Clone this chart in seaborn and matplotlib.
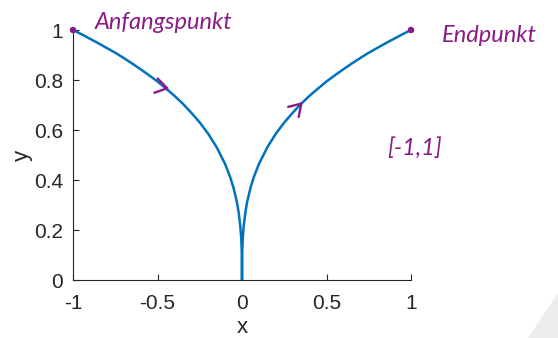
import matplotlib
matplotlib.use("Agg")
import matplotlib.pyplot as plt
import seaborn as sns
from matplotlib.patches import Polygon

# curve samples (x, y) from -1 to 1
x_vals = [-1.0, -0.95, -0.9, -0.85, -0.8, -0.75, -0.7, -0.65, -0.6, -0.55,
          -0.5, -0.45, -0.4, -0.35, -0.3, -0.25, -0.2, -0.15, -0.1, -0.07,
          -0.05, -0.03, -0.02, -0.01, -0.005, -0.002, -0.0005, -0.0001,
          -0.00001, 0.0,
          0.00001, 0.0001, 0.0005, 0.002, 0.005, 0.01, 0.02, 0.03, 0.05,
          0.07, 0.1, 0.15, 0.2, 0.25, 0.3, 0.35, 0.4, 0.45, 0.5, 0.55, 0.6,
          0.65, 0.7, 0.75, 0.8, 0.85, 0.9, 0.95, 1.0]
y_vals = [1.000, 0.983, 0.965, 0.947, 0.928, 0.909, 0.888, 0.866, 0.843, 0.819,
          0.794, 0.766, 0.737, 0.705, 0.669, 0.630, 0.585, 0.531, 0.464, 0.412,
          0.368, 0.311, 0.271, 0.215, 0.171, 0.126, 0.079, 0.046,
          0.022, 0.000,
          0.022, 0.046, 0.079, 0.126, 0.171, 0.215, 0.271, 0.311, 0.368,
          0.412, 0.464, 0.531, 0.585, 0.630, 0.669, 0.705, 0.737, 0.766, 0.794,
          0.819, 0.843, 0.866, 0.888, 0.909, 0.928, 0.947, 0.965, 0.983, 1.000]

# start / end points
end_x = [-1.0, 1.0]
end_y = [1.0, 1.0]

x_ticks = [-1, -0.5, 0, 0.5, 1]
x_tick_labels = ["-1", "-0.5", "0", "0.5", "1"]
y_ticks = [0, 0.2, 0.4, 0.6, 0.8, 1]
y_tick_labels = ["0", "0.2", "0.4", "0.6", "0.8", "1"]

sns.set_style("ticks")
plt.rcParams["font.family"] = ["Liberation Sans", "DejaVu Sans"]

blue = "#0072BD"
purple = "#8a1a86"
axis_gray = "#262626"

fig = plt.figure(figsize=(5.58, 3.38), dpi=100)
ax = fig.add_axes([73 / 558, 1 - 280 / 338, 338 / 558, 250 / 338])

sns.lineplot(x=x_vals, y=y_vals, ax=ax, color=blue, linewidth=1.8, sort=False)
sns.scatterplot(x=end_x, y=end_y, ax=ax, color=purple, s=22, edgecolor="none",
                zorder=5, clip_on=False)

# direction chevrons along the curve
chevron = dict(arrowstyle="->,head_length=0.55,head_width=0.35",
               color=purple, lw=1.7, shrinkA=0, shrinkB=0, mutation_scale=15)
ax.annotate("", xy=(-0.43, 0.765), xytext=(-3, 0.7), textcoords="offset points",
            arrowprops=chevron)
ax.annotate("", xy=(0.36, 0.712), xytext=(-2, -2.1), textcoords="offset points",
            arrowprops=chevron)

hand = dict(color=purple, family=["Lato", "DejaVu Sans"], style="italic",
            fontsize=17)
ax.text(-0.87, 1.03, "Anfangspunkt", ha="left", va="center", clip_on=False, **hand)
ax.text(1.18, 0.98, "Endpunkt", ha="left", va="center", clip_on=False, **hand)
ax.text(0.86, 0.53, "[-1,1]", ha="left", va="center", clip_on=False, **hand)

ax.set_xlim(-1, 1)
ax.set_ylim(0, 1)
ax.set_xticks(x_ticks)
ax.set_xticklabels(x_tick_labels)
ax.set_yticks(y_ticks)
ax.set_yticklabels(y_tick_labels)
ax.tick_params(direction="in", length=4, width=0.8, colors=axis_gray,
               labelsize=15, pad=7)
ax.tick_params(axis="x", pad=10)
for side in ("left", "bottom"):
    ax.spines[side].set_color(axis_gray)
    ax.spines[side].set_linewidth(0.8)
ax.spines["top"].set_visible(False)
ax.spines["right"].set_visible(False)

ax.set_xlabel("x", fontsize=16, color=axis_gray, labelpad=3)
ax.set_ylabel("y", fontsize=16, color=axis_gray, labelpad=1)

# faint shadow in the lower right corner
fig.patches.append(Polygon([[528 / 558, 0], [1, 0], [1, 45 / 338]],
                           closed=True, transform=fig.transFigure,
                           facecolor="#ececec", edgecolor="none"))

fig.savefig("out.png", dpi=100)
